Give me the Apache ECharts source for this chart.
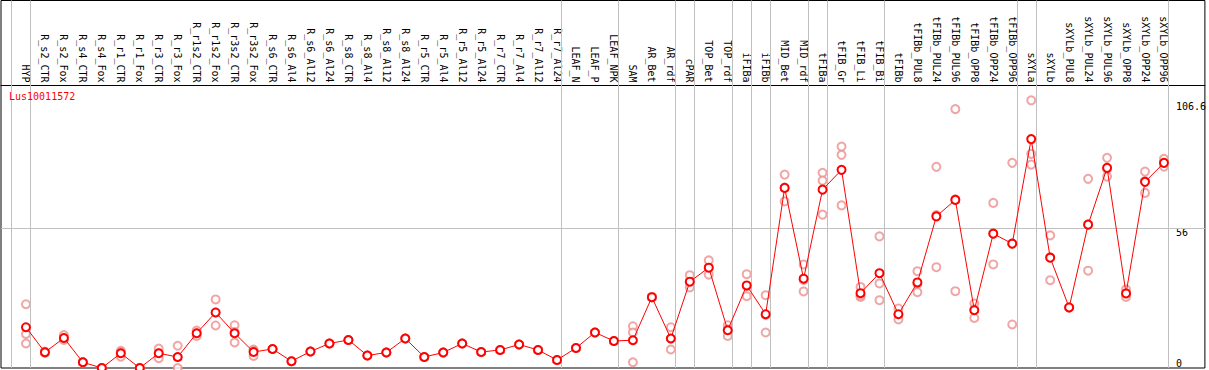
<!DOCTYPE html>
<html><head><meta charset="utf-8">
<script src="https://cdn.jsdelivr.net/npm/echarts@6/dist/echarts.min.js"></script>
<style>html,body{margin:0;padding:0;background:#fff}#c{width:1209px;height:370px}</style>
</head><body><div id="c"></div>
<script>
const geneName = 'Lus10011572';
const categories = ['HYP','R_s2_CTR','R_s2_Fox','R_s4_CTR','R_s4_Fox','R_r1_CTR','R_r1_Fox','R_r3_CTR','R_r3_Fox','R_r1s2_CTR','R_r1s2_Fox','R_r3s2_CTR','R_r3s2_Fox','R_s6_CTR','R_s6_Al4','R_s6_Al12','R_s6_Al24','R_s8_CTR','R_s8_Al4','R_s8_Al12','R_s8_Al24','R_r5_CTR','R_r5_Al4','R_r5_Al12','R_r5_Al24','R_r7_CTR','R_r7_Al4','R_r7_Al12','R_r7_Al24','LEAF_N','LEAF_P','LEAF_NPK','SAM','AR_Bet','AR_rdf','cPAR','TOP_Bet','TOP_rdf','iFIBa','iFIBb','MID_Bet','MID_rdf','tFIBa','tFIB_Gr','tFIB_Li','tFIB_Bi','tFIBb','tFIBb_PUL8','tFIBb_PUL24','tFIBb_PUL96','tFIBb_OPP8','tFIBb_OPP24','tFIBb_OPP96','sXYLa','sXYLb','sXYLb_PUL8','sXYLb_PUL24','sXYLb_PUL96','sXYLb_OPP8','sXYLb_OPP24','sXYLb_OPP96'];
const meanValues = [16.3,6.3,12.0,2.3,0,5.9,0,5.9,4.4,13.9,22.2,13.9,6.4,7.6,2.7,6.6,9.8,11.2,5.0,6.2,11.8,4.4,6.2,9.8,6.4,7.2,9.4,7.2,3.2,8.0,14.2,10.8,11.1,28.3,11.8,34.5,40.1,15.1,33.0,21.5,72.0,35.7,71.3,79.2,29.9,37.9,21.5,34.2,60.6,67.2,23.1,53.7,49.7,91.5,44.1,24.2,57.3,80.0,29.8,74.4,82.0];
const rep1 = [25.5,6.6,13.2,2.3,0,6.9,0,7.8,8.9,15.0,27.4,17.1,7.4,7.6,2.7,6.6,9.8,11.2,5.0,6.2,11.8,4.4,6.2,9.8,6.4,7.2,9.4,7.2,3.2,8.0,14.2,10.8,16.7,28.3,16.3,37.1,43.0,17.1,37.5,29.1,77.3,41.4,78.0,88.5,32.4,52.6,23.8,38.7,80.4,103.5,25.8,66.0,82.0,107.0,53.0,24.2,75.6,84.0,31.4,78.5,83.6];
const rep2 = [13.6,6.3,12.0,2.3,0,6.3,0,6.0,4.3,13.9,22.2,14.4,7.0,7.6,2.7,6.6,9.8,11.2,5.0,6.2,11.8,4.4,6.2,9.8,6.4,7.2,9.4,7.2,3.2,8.0,14.2,10.8,14.2,28.3,11.7,34.3,40.1,15.5,32.7,21.2,72.1,35.2,74.9,85.2,28.4,33.8,21.3,33.6,61.1,67.4,23.5,53.7,49.7,85.6,44.2,24.2,57.4,79.5,29.6,74.7,81.9];
const rep3 = [9.8,6.0,11.2,2.3,0,4.5,0,3.9,0,12.8,17.0,10.2,4.8,7.6,2.7,6.6,9.8,11.2,5.0,6.2,11.8,4.4,6.2,9.8,6.4,7.2,9.4,7.2,3.2,8.0,14.2,10.8,2.3,28.3,7.4,32.2,37.3,12.8,28.7,14.2,66.6,30.6,61.3,65.0,29.0,27.1,19.4,30.3,40.3,30.7,20.0,41.4,17.4,81.3,35.1,24.2,38.9,76.5,28.4,70.0,80.5];
const yTickLabels = [0, 56, 106.6];
const groupEnds = [-1, 0, 28, 31, 34, 35, 37, 38, 39, 41, 42, 45, 52, 53, 60];

const FONT = '"DejaVu Sans Mono", monospace';
const meanData = meanValues.map((v, i) => [i, v]);
const repData = [];
[rep1, rep2, rep3].forEach(arr => arr.forEach((v, i) => repData.push([i, v])));

const chart = echarts.init(document.getElementById('c'), null, {renderer: 'svg'});
chart.setOption({
  animation: false,
  backgroundColor: '#fff',
  title: {
    text: geneName, left: 9, top: 91, padding: 0,
    textStyle: {color: '#ff0000', fontSize: 10, fontWeight: 'normal', fontFamily: FONT}
  },
  grid: {left: 1, top: 0.5, right: 2, bottom: 2, show: true, borderColor: '#000', borderWidth: 1, backgroundColor: 'transparent'},
  xAxis: {
    type: 'value', position: 'top', offset: -85,
    min: -1.316, max: 62.158,
    axisLine: {show: true, onZero: false, lineStyle: {color: '#000', width: 1}},
    axisTick: {show: false},
    splitLine: {show: false},
    axisLabel: {
      customValues: categories.map((_, i) => i),
      formatter: v => categories[Math.round(v)] || '',
      rotate: 90, margin: 3, fontSize: 10, color: '#000', fontFamily: FONT
    }
  },
  yAxis: {
    type: 'value', position: 'right', min: 0, max: 146.9,
    axisLine: {show: false}, axisTick: {show: false}, splitLine: {show: false},
    axisLabel: {
      customValues: yTickLabels, inside: true, align: 'left', margin: 29,
      verticalAlign: 'top', verticalAlignMinLabel: 'bottom',
      fontSize: 10, color: '#000', fontFamily: FONT,
      formatter: v => String(v)
    }
  },
  series: [
    {
      type: 'scatter', data: repData, symbol: 'emptyCircle', symbolSize: 8,
      itemStyle: {color: '#ee9090', borderColor: '#ee9090', borderWidth: 1.2},
      z: 3,
      markLine: {
        silent: true, symbol: 'none', label: {show: false},
        data: groupEnds.map(g => ({xAxis: g + 0.24})).concat([{yAxis: 56}]),
        lineStyle: {color: '#c0c0c0', width: 1, type: 'solid'}
      }
    },
    {
      type: 'line', data: meanData, symbol: 'emptyCircle', symbolSize: 8,
      lineStyle: {color: '#ff0000', width: 1},
      itemStyle: {color: '#ff0000', borderColor: '#ff0000', borderWidth: 1.4},
      z: 5
    }
  ]
});
</script></body></html>
